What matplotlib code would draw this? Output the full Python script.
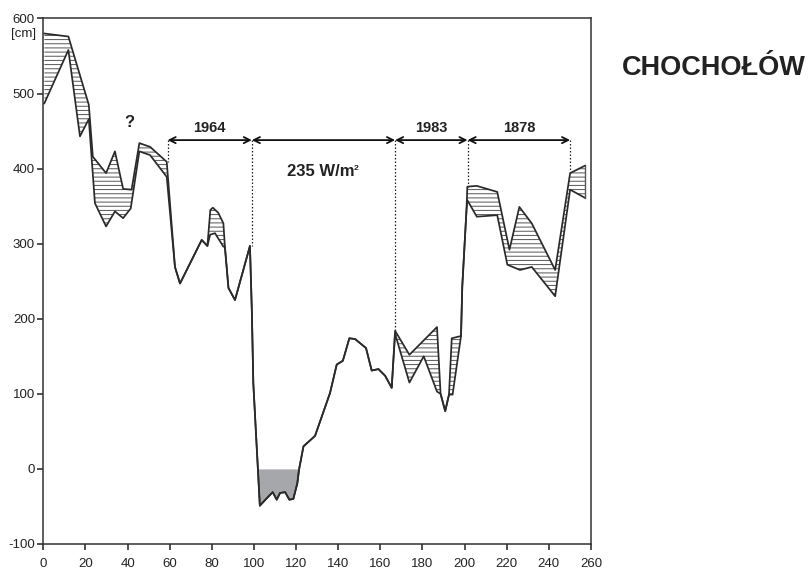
import numpy as np
import matplotlib
matplotlib.use("Agg")
import matplotlib.pyplot as plt

plt.rcParams['font.family'] = ['Liberation Sans', 'DejaVu Sans']
plt.rcParams['hatch.linewidth'] = 0.7
plt.rcParams['hatch.color'] = '#555555'
plt.rcParams['axes.unicode_minus'] = False

# shared middle part of the profile
mid_x = [102.8, 106.8, 108.9, 110.8, 112.4, 114.8, 116.8, 118.7, 120.6, 121.4,
         123.5, 129.0, 136.1, 139.3, 142.2, 145.3, 148.0, 153.2, 155.9, 159.1,
         162.3, 165.4]
mid_y = [-49, -37, -31, -41, -32, -31, -41, -40, -19, -1,
         30, 44, 101, 139, 144, 174, 173, 161, 131, 133,
         124, 108]

# upper envelope
up_x = ([0.5, 11.9, 21.6, 23.5, 29.8, 34.0, 37.9, 41.9, 45.6, 50.7, 58.6,
         62.5, 64.9, 75.2, 77.9, 79.3, 80.5, 83.1, 85.5, 86.2, 87.9, 91.0,
         98.1, 99.0, 99.7] + mid_x +
        [167.0, 173.8, 186.9, 188.6, 190.8, 192.6, 193.9, 198.3, 198.9, 200.9,
         201.3, 205.8, 215.5, 221.3, 226.0, 231.9, 243.0, 250.1, 257.2])
up_y = ([580, 576, 485, 416, 394, 423, 373, 372, 434, 429, 409,
         269, 247, 305, 297, 345, 348, 341, 327, 296, 241, 225,
         297, 210, 114] + mid_y +
        [184, 152, 189, 100, 77, 99, 174, 177, 243, 345,
         376, 377, 369, 292, 349, 327, 265, 394, 404])

# lower envelope
lo_x = ([0.5, 11.9, 17.4, 21.6, 24.5, 29.8, 34.0, 37.9, 41.5, 45.6, 50.7, 58.6,
         62.5, 64.9, 75.2, 77.9, 79.2, 81.5, 85.5, 86.2, 87.9, 91.0,
         98.1, 99.0, 99.7] + mid_x +
        [167.0, 173.8, 180.6, 186.9, 188.6, 190.8, 192.6, 194.3, 198.3, 198.9,
         200.9, 201.3, 205.8, 215.5, 220.3, 226.3, 231.9, 243.0, 250.1, 257.2])
lo_y = ([487, 558, 443, 466, 354, 323, 343, 334, 347, 423, 418, 389,
         269, 247, 305, 297, 312, 314, 296, 296, 241, 225,
         297, 210, 114] + mid_y +
        [180, 115, 150, 103, 100, 77, 99, 99, 177, 243,
         345, 358, 336, 338, 272, 265, 269, 230, 372, 361])

# period annotations
periods = ['1964', '235 W/m', '1983', '1878']
period_start = [59.0, 99.0, 167.0, 201.4]
period_end = [99.0, 167.0, 201.4, 250.1]
arrow_level = 438
divider_x = [59.0, 99.0, 167.0, 201.4, 250.1]
divider_bottom = [409, 297, 184, 376, 394]

x_ticks = list(range(0, 261, 20))
y_ticks = list(range(-100, 601, 100))

fig = plt.figure(figsize=(8.11, 5.76), dpi=100)
ax = fig.add_axes([0.0534, 0.0556, 0.6753, 0.9123])

# hatched area between envelopes
poly_x = np.concatenate([up_x, lo_x[::-1]])
poly_y = np.concatenate([up_y, lo_y[::-1]])
ax.fill(poly_x, poly_y, facecolor='none', edgecolor='#555555', hatch='----',
        linewidth=0, zorder=1)

# gray area below zero
lx = np.array(lo_x, dtype=float)
ly = np.array(lo_y, dtype=float)
ax.fill_between(lx, ly, 0, where=ly <= 0, interpolate=True,
                color='#a6a7aa', linewidth=0, zorder=1)

ax.plot(lo_x, lo_y, color='#2a2a2a', lw=1.25, zorder=3)
ax.plot(up_x, up_y, color='#2a2a2a', lw=1.25, zorder=3)
ax.plot([up_x[-1], lo_x[-1]], [up_y[-1], lo_y[-1]], color='#555555', lw=1.0, zorder=3)

# dotted dividers
for xd, yb in zip(divider_x, divider_bottom):
    ax.plot([xd, xd], [arrow_level, yb], color='#222222', lw=0.9,
            linestyle=(0, (1.2, 1.6)), zorder=2)

# arrows and labels
for lab, xs, xe in zip(periods, period_start, period_end):
    ax.annotate('', xy=(xs, arrow_level), xytext=(xe, arrow_level),
                arrowprops=dict(arrowstyle='<->', lw=1.3, color='#111111',
                                shrinkA=0, shrinkB=0, mutation_scale=11))
    if lab.startswith('235'):
        t = ax.text((xs + xe) / 2 - 1.5, 396, lab, ha='center', va='center',
                    fontsize=12, fontweight='bold', color='#222222')
        ax.annotate('2', xy=(1.0, 0.92), xycoords=t, ha='left', va='top',
                    fontsize=6, fontweight='bold', color='#222222')
    else:
        ax.text((xs + xe) / 2, 454, lab, ha='center', va='center',
                fontsize=10.5, fontweight='bold', color='#222222')

ax.text(41, 461, '?', ha='center', va='center', fontsize=12,
        fontweight='bold', color='#222222')

ax.set_xlim(0, 260)
ax.set_ylim(-100, 600)
ax.set_xticks(x_ticks)
ax.set_yticks(y_ticks)
ax.tick_params(axis='x', direction='out', length=4, width=1.1, pad=6,
               labelsize=9.5, colors='#222222')
ax.tick_params(axis='y', direction='out', length=4, width=1.1, pad=2,
               labelsize=9.5, colors='#222222')
for sp in ax.spines.values():
    sp.set_color('#333333')
    sp.set_linewidth(1.1)

fig.text(24 / 811, 1 - 34 / 576, '[cm]', ha='center', va='center',
         fontsize=9.5, color='#222222')
fig.text(713.5 / 811, 1 - 68 / 576, 'CHOCHOŁÓW', ha='center', va='center',
         fontsize=19.5, fontweight='bold', color='#222222')

fig.savefig('out.png', dpi=100)
